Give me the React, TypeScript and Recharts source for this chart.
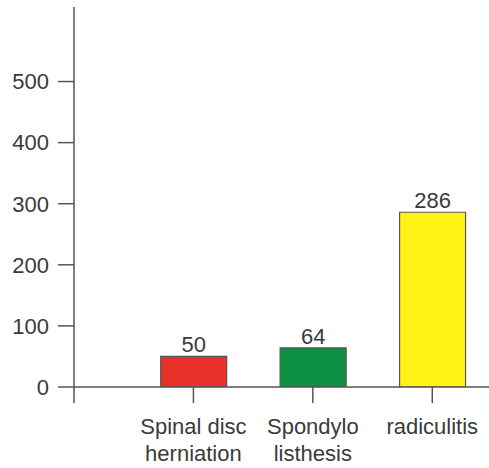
import React from "react";
import { BarChart, Bar, XAxis, YAxis, Cell, LabelList } from "recharts";

const categories = ["Spinal disc|herniation", "Spondylo|listhesis", "radiculitis"];
const values = [50, 64, 286];
const colors = ["#e8312b", "#0c9041", "#fff214"];
const yTicks = [0, 100, 200, 300, 400, 500];

const data = categories.map((c, i) => ({ x: i + 1, name: c, value: values[i] }));

const FONT = "'Liberation Sans', Arial, sans-serif";
const AXIS = "#555555";
const TEXT = "#3a3a3a";

const XTick = (props: any) => {
  const { x, y, payload } = props;
  const idx = Math.round(payload.value) - 1;
  if (idx < 0 || idx >= categories.length) return null;
  const lines = categories[idx].split("|");
  return (
    <text x={x} y={y} textAnchor="middle" fill={TEXT} fontSize={22} fontFamily={FONT}>
      {lines.map((l, i) => (
        <tspan key={i} x={x} dy={i === 0 ? 29 : 27}>
          {l}
        </tspan>
      ))}
    </text>
  );
};

export default function App() {
  return (
    <div style={{ position: "absolute", left: 0, top: 0, background: "#fff" }}>
      <BarChart
        width={489}
        height={468}
        data={data}
        margin={{ top: 7, right: 0, bottom: 0, left: 0 }}
      >
        <XAxis
          dataKey="x"
          type="number"
          domain={[0, 3.475]}
          ticks={[0, 1, 2, 3]}
          allowDataOverflow
          height={81}
          tickSize={16}
          tickMargin={2}
          axisLine={{ stroke: AXIS, strokeWidth: 1.5 }}
          tickLine={{ stroke: AXIS, strokeWidth: 1.5 }}
          tick={<XTick />}
          interval={0}
        />
        <YAxis
          type="number"
          domain={[0, 622]}
          ticks={yTicks}
          width={74}
          tickSize={16}
          tickMargin={9}
          allowDataOverflow
          axisLine={{ stroke: AXIS, strokeWidth: 1.5 }}
          tickLine={{ stroke: AXIS, strokeWidth: 1.5 }}
          tick={{ fill: TEXT, fontSize: 22, fontFamily: FONT }}
        />
        <Bar dataKey="value" barSize={66} stroke="#555555" strokeWidth={1.2} isAnimationActive={false}>
          {data.map((d, i) => (
            <Cell key={i} fill={colors[i]} />
          ))}
          <LabelList
            dataKey="value"
            position="top"
            offset={4}
            fill={TEXT}
            fontSize={22}
            fontFamily={FONT}
          />
        </Bar>
      </BarChart>
    </div>
  );
}
